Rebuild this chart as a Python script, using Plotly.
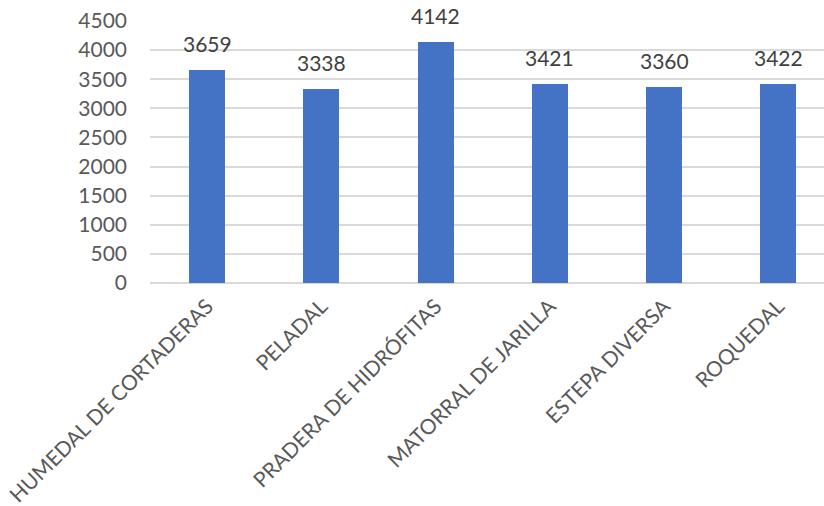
import plotly.graph_objects as go

categories = ["HUMEDAL DE CORTADERAS", "PELADAL", "PRADERA DE HIDRÓFITAS",
              "MATORRAL DE JARILLA", "ESTEPA DIVERSA", "ROQUEDAL"]
values = [3659, 3338, 4142, 3421, 3360, 3422]
y_ticks = [0, 500, 1000, 1500, 2000, 2500, 3000, 3500, 4000, 4500]

FONT = "Lato"

fig = go.Figure()
fig.add_trace(go.Bar(
    x=list(range(len(categories))), y=values,
    marker=dict(color="#4472C4", line=dict(width=0)),
    width=0.315,
    hoverinfo="skip",
))

for i, v in enumerate(values):
    fig.add_annotation(x=i, y=v, text=str(v), showarrow=False,
                       xref="x", yref="y", yanchor="bottom", yshift=12,
                       font=dict(family=FONT, size=21, color="#404040"))

fig.update_layout(
    width=824, height=506,
    margin=dict(l=150, r=0, t=21, b=223),
    paper_bgcolor="white", plot_bgcolor="white",
    showlegend=False,
    bargap=0,
)
fig.update_xaxes(
    tickmode="array", tickvals=list(range(len(categories))), ticktext=categories,
    range=[-0.5, 5.40], tickangle=-45,
    tickfont=dict(family=FONT, size=21, color="#595959"),
    showgrid=False, showline=False, zeroline=False, automargin=False,
    ticks="", ticklabelstandoff=6,
)
fig.update_yaxes(
    range=[0, 4500], tickmode="array", tickvals=y_ticks,
    tickfont=dict(family=FONT, size=21, color="#595959"),
    showgrid=True, gridcolor="#D9D9D9", gridwidth=1.5,
    zeroline=True, zerolinecolor="#D9D9D9", zerolinewidth=1.5,
    showline=False, automargin=False, ticks="", ticklabelstandoff=22,
)

fig.write_html("out.html")
